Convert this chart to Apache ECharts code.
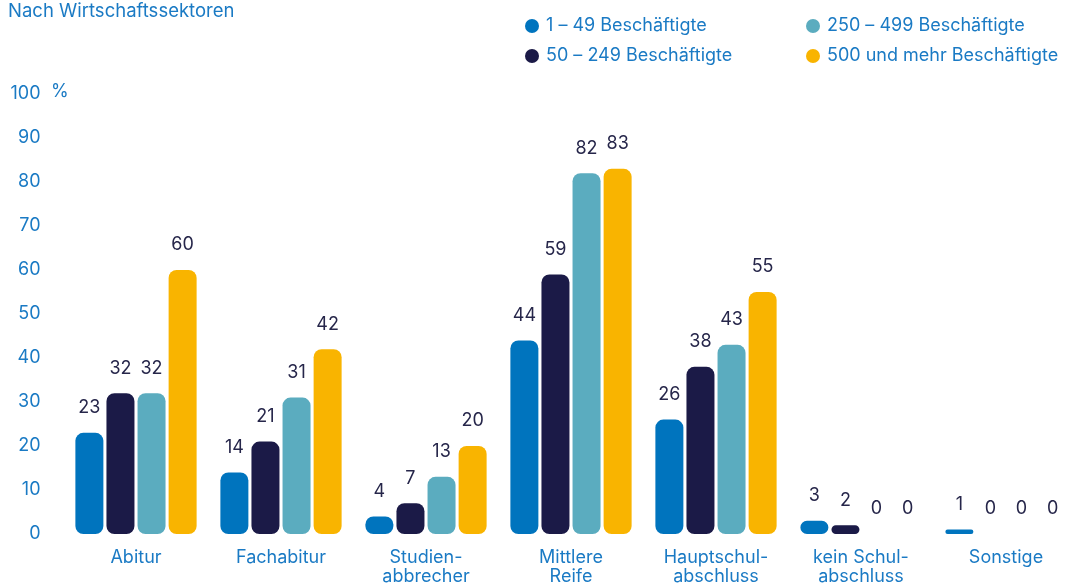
<!DOCTYPE html>
<html>
<head>
<meta charset="utf-8">
<style>
  html, body { margin: 0; padding: 0; background: #ffffff; overflow: hidden; }
  #chart { width: 1067px; height: 585px; }
</style>
<script src="https://cdn.jsdelivr.net/npm/echarts@6/dist/echarts.min.js"></script>
</head>
<body>
<div id="chart"></div>
<script>
// Abschlüsse nach Betriebsgröße, Anteil in %
const categories = ['Abitur', 'Fachabitur', 'Studien-\nabbrecher', 'Mittlere\nReife', 'Hauptschul-\nabschluss', 'kein Schul-\nabschluss', 'Sonstige'];
const seriesNames = ['1 – 49 Beschäftigte', '50 – 249 Beschäftigte', '250 – 499 Beschäftigte', '500 und mehr Beschäftigte'];
const small = [23, 14, 4, 44, 26, 3, 1];
const medium = [32, 21, 7, 59, 38, 2, 0];
const large = [32, 31, 13, 82, 43, 0, 0];
const veryLarge = [60, 42, 20, 83, 55, 0, 0];
const yTicks = [0, 10, 20, 30, 40, 50, 60, 70, 80, 90, 100];

const colors = ['#0074BE', '#1B1A47', '#5BACBF', '#F9B400'];
const blue = '#1A7AC4';
const font = 'Inter, "Noto Sans", sans-serif';
const fs = 18;

const values = [small, medium, large, veryLarge];

const legendText = { color: blue, fontSize: fs, fontFamily: font, padding: [0, 0, 0, 2] };

const chart = echarts.init(document.getElementById('chart'));
chart.setOption({
  animation: false,
  textStyle: { fontFamily: font },
  grid: { left: 63.5, width: 1015, top: 94, bottom: 51, containLabel: false, outerBoundsMode: 'none' },
  legend: [
    {
      data: [seriesNames[0], seriesNames[1]],
      orient: 'vertical', left: 520, top: 12, itemGap: 12,
      icon: 'circle', itemWidth: 14, itemHeight: 14,
      textStyle: legendText
    },
    {
      data: [seriesNames[2], seriesNames[3]],
      orient: 'vertical', left: 801, top: 12, itemGap: 12,
      icon: 'circle', itemWidth: 14, itemHeight: 14,
      textStyle: legendText
    }
  ],
  graphic: [
    { type: 'text', left: 8, top: 2, style: { text: 'Nach Wirtschaftssektoren', fill: blue, font: '18.5px ' + font } },
    { type: 'text', left: 51, top: 83, style: { text: '%', fill: blue, font: fs + 'px ' + font } }
  ],
  xAxis: {
    type: 'category',
    data: categories,
    axisLine: { show: false },
    axisTick: { show: false },
    axisLabel: { color: blue, fontSize: fs, lineHeight: 19, margin: 14, interval: 0, fontFamily: font }
  },
  yAxis: {
    type: 'value',
    min: yTicks[0], max: yTicks[yTicks.length - 1], interval: 10,
    splitLine: { show: false },
    axisLine: { show: false },
    axisTick: { show: false },
    axisLabel: { color: blue, fontSize: fs, margin: 23, fontFamily: font }
  },
  series: values.map((data, i) => ({
    name: seriesNames[i],
    type: 'bar',
    data: data,
    barWidth: 28,
    barGap: '11%',
    itemStyle: { color: colors[i], borderRadius: 8 },
    label: {
      show: true, position: 'top', distance: 16,
      color: '#26264A', fontSize: fs, fontFamily: font
    }
  }))
});
</script>
</body>
</html>
